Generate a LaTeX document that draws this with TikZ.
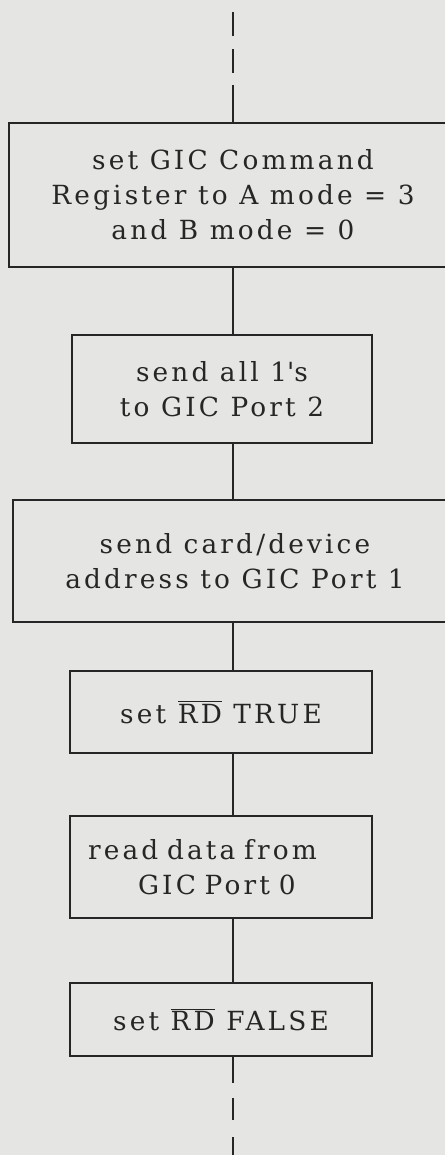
\documentclass[tikz,border=0pt]{standalone}
\usepackage{fontspec}
\setmainfont{DejaVu Serif}[LetterSpace=12]
\definecolor{paper}{HTML}{E5E5E3}
\definecolor{ink}{HTML}{262626}

\begin{document}
\begin{tikzpicture}[x=0.02cm,y=-0.02cm,
  box/.style={draw=ink,line width=1.4pt,fill=paper,text=ink,align=center,inner sep=0pt,font=\fontsize{15}{20}\selectfont},
  wire/.style={draw=ink,line width=1.4pt},
  broken/.style={wire,dash pattern=on 0.48cm off 0.26cm}]
\useasboundingbox (0,0) rectangle (445,1155);
\clip (0,0) rectangle (445,1155);
\fill[paper] (0,0) rectangle (445,1155);
\node[box,minimum width=8.96cm,minimum height=2.88cm] (cmdreg) at (233,195){set GIC Command\\Register to A mode = 3\\and B mode = 0};
\node[box,minimum width=6cm,minimum height=2.16cm] (ones) at (222,389){send all 1\textquotesingle s\\to GIC Port 2};
\node[box,minimum width=8.88cm,minimum height=2.44cm] (addr) at (235,561){send card/device\\address to GIC Port 1};
\node[box,minimum width=6.04cm,minimum height=1.64cm] (rdtrue) at (221,712){set $\overline{\mbox{RD}}$ TRUE};
\node[box,text width=6.04cm,align=left,minimum height=2.04cm] (readdata) at (221,867){\hspace*{0.36cm}read data from\\\hspace*{1.36cm}GIC Port 0};
\node[box,minimum width=6.04cm,minimum height=1.46cm] (rdfalse) at (221,1019.5){set $\overline{\mbox{RD}}$ FALSE};
\coordinate (inA) at (233,12);\coordinate (inB) at (233,85);
\coordinate (outB) at (233,1083);\coordinate (outA) at (233,1098);\coordinate (outC) at (233,1170);
\draw[broken] (inA)--(inB);\draw[wire] (inB)--(cmdreg.north);
\draw[wire] (cmdreg.south)--(ones.north -| cmdreg);
\draw[wire] (ones.south -| cmdreg)--(addr.north -| cmdreg);
\draw[wire] (addr.south -| cmdreg)--(rdtrue.north -| cmdreg);
\draw[wire] (rdtrue.south -| cmdreg)--(readdata.north -| cmdreg);
\draw[wire] (readdata.south -| cmdreg)--(rdfalse.north -| cmdreg);
\draw[wire] (rdfalse.south -| cmdreg)--(outB);\draw[broken,dash pattern=on 0.44cm off 0.34cm] (outA)--(outC);
\end{tikzpicture}
\end{document}
